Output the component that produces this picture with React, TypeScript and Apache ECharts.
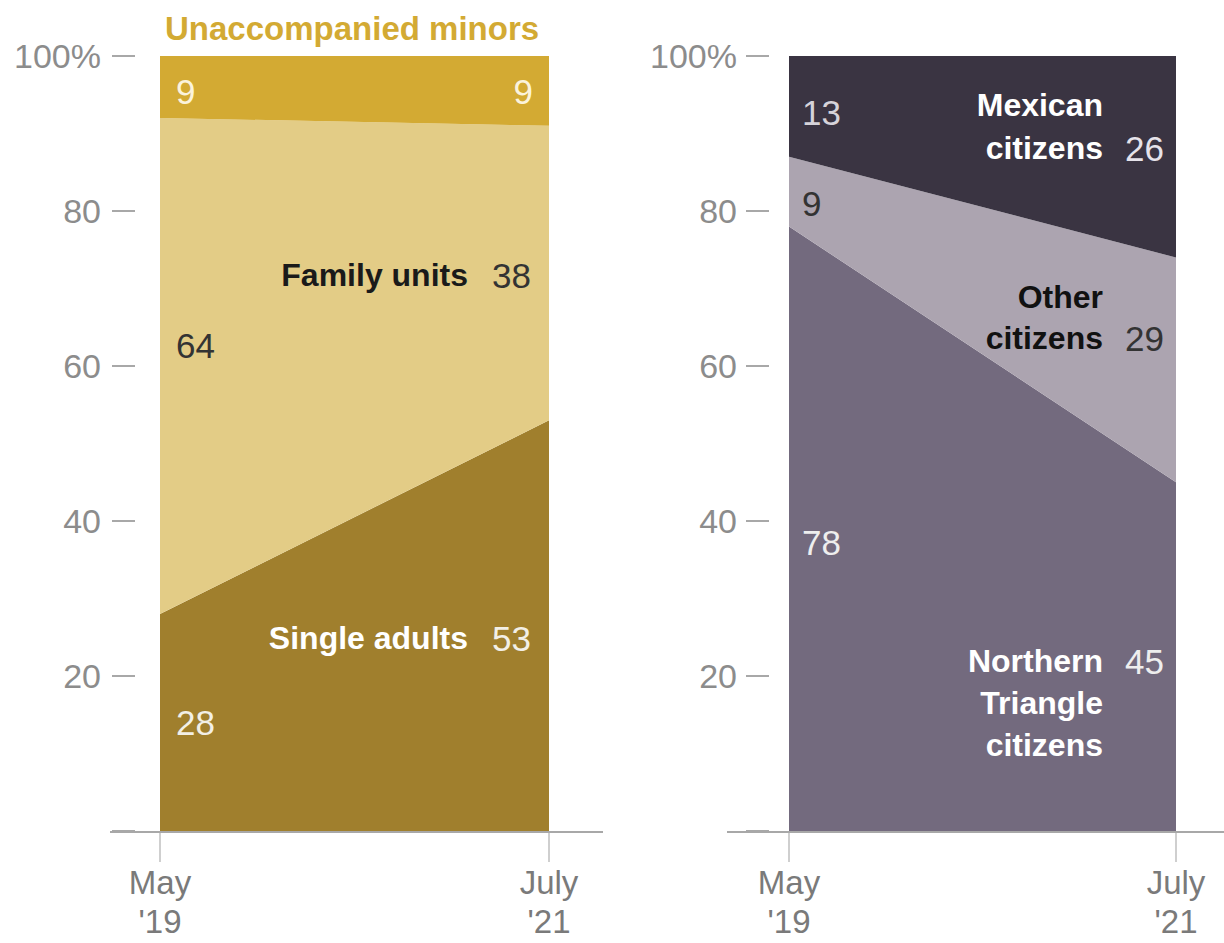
import React, { useEffect, useRef } from "react";
import * as echarts from "echarts";

const periods = ["May\n'19", "July\n'21"];
const yTicks = [0, 20, 40, 60, 80, 100];

// Left panel: shares by family status (%)
const singleAdults = [28, 53];
const familyUnits = [64, 38];
const unaccompanied = [9, 9];

// Right panel: shares by citizenship (%)
const northernTriangle = [78, 45];
const otherCitizens = [9, 29];
const mexicanCitizens = [13, 26];

const FONT = "'Liberation Sans', Arial, sans-serif";

function txt(text: string, x: number, y: number, fill: string, align: string, bold = false) {
  return {
    type: "text",
    x,
    y,
    z: 100,
    style: {
      text,
      fill,
      fontSize: bold ? 32 : 35,
      fontWeight: bold ? "bold" : "normal",
      fontFamily: FONT,
      align,
      verticalAlign: "middle",
    },
  };
}

export default function App() {
  const ref = useRef<HTMLDivElement>(null);
  useEffect(() => {
    const chart = echarts.init(ref.current!, null, { renderer: "svg" });
    const yAxisBase = (offset: number, margin: number) => ({
      type: "value",
      min: yTicks[0],
      max: yTicks[yTicks.length - 1],
      interval: 20,
      offset,
      axisLine: { show: false },
      axisTick: { show: true, length: 23, lineStyle: { color: "#a8a8a8", width: 2 } },
      splitLine: { show: false },
      axisLabel: {
        margin,
        fontSize: 34,
        fontFamily: FONT,
        color: "#8c8c8c",
        formatter: (v: number) => (v === 0 ? "" : v === 100 ? "100%" : String(v)),
      },
    });
    const xAxisBase = (gridIndex: number) => ({
      type: "category",
      gridIndex,
      data: periods,
      boundaryGap: false,
      axisLine: { show: false },
      axisTick: { show: true, length: 31, alignWithLabel: true, lineStyle: { color: "#cfcfcf", width: 2 } },
      axisLabel: {
        margin: 32,
        fontSize: 33,
        lineHeight: 39,
        fontFamily: FONT,
        color: "#7a7a7a",
        interval: 0,
      },
    });
    const area = (name: string, data: number[], color: string, stack: string, idx: number) => ({
      name,
      type: "line",
      stack,
      data,
      xAxisIndex: idx,
      yAxisIndex: idx,
      symbol: "none",
      lineStyle: { width: 0 },
      areaStyle: { color, opacity: 1 },
      itemStyle: { color },
    });
    chart.setOption({
      animation: false,
      grid: [
        { left: 160, right: 675, top: 56, bottom: 112, outerBoundsMode: "none", containLabel: false },
        { left: 789, right: 48, top: 56, bottom: 112, outerBoundsMode: "none", containLabel: false },
      ],
      xAxis: [xAxisBase(0), xAxisBase(1)],
      yAxis: [
        { ...yAxisBase(25, 34), gridIndex: 0 },
        { ...yAxisBase(20, 32), gridIndex: 1 },
      ],
      series: [
        area("Single adults", singleAdults, "#A07F2D", "L", 0),
        area("Family units", familyUnits, "#E3CC86", "L", 0),
        area("Unaccompanied minors", unaccompanied, "#D3AA33", "L", 0),
        area("Northern Triangle citizens", northernTriangle, "#736A7E", "R", 1),
        area("Other citizens", otherCitizens, "#ACA4B0", "R", 1),
        area("Mexican citizens", mexicanCitizens, "#3A3442", "R", 1),
      ],
      graphic: [
        { type: "line", z: 90, shape: { x1: 110, y1: 832, x2: 603, y2: 832 }, style: { stroke: "#a8a8a8", lineWidth: 2 } },
        { type: "line", z: 90, shape: { x1: 727, y1: 832, x2: 1224, y2: 832 }, style: { stroke: "#a8a8a8", lineWidth: 2 } },
        {
          type: "text",
          x: 165,
          y: 28,
          z: 100,
          style: {
            text: "Unaccompanied minors",
            fill: "#D3AA33",
            fontSize: 33,
            fontWeight: "bold",
            fontFamily: FONT,
            align: "left",
            verticalAlign: "middle",
          },
        },
        txt(String(unaccompanied[0]), 176, 91, "#FBF3DC", "left"),
        txt(String(unaccompanied[1]), 533, 91, "#FBF3DC", "right"),
        txt("Family units", 468, 275, "#1a1a1a", "right", true),
        txt(String(familyUnits[1]), 492, 275, "#333333", "left"),
        txt(String(familyUnits[0]), 176, 345, "#333333", "left"),
        txt("Single adults", 468, 638, "#ffffff", "right", true),
        txt(String(singleAdults[1]), 492, 638, "#F2EFE6", "left"),
        txt(String(singleAdults[0]), 176, 722, "#F2EFE6", "left"),

        txt(String(mexicanCitizens[0]), 802, 112, "#D6D3DA", "left"),
        txt("Mexican", 1103, 105, "#ffffff", "right", true),
        txt("citizens", 1103, 148, "#ffffff", "right", true),
        txt(String(mexicanCitizens[1]), 1125, 148, "#E6E3EA", "left"),
        txt(String(otherCitizens[0]), 802, 203, "#333333", "left"),
        txt("Other", 1103, 297, "#111111", "right", true),
        txt("citizens", 1103, 338, "#111111", "right", true),
        txt(String(otherCitizens[1]), 1125, 338, "#333333", "left"),
        txt(String(northernTriangle[0]), 802, 542, "#EEEEEE", "left"),
        txt("Northern", 1103, 661, "#ffffff", "right", true),
        txt("Triangle", 1103, 703, "#ffffff", "right", true),
        txt("citizens", 1103, 745, "#ffffff", "right", true),
        txt(String(northernTriangle[1]), 1125, 661, "#EEEEEE", "left"),
      ],
    });
    return () => chart.dispose();
  }, []);
  return (
    <div
      ref={ref}
      style={{ position: "fixed", left: 0, top: 0, width: 1224, height: 943, background: "#fff" }}
    />
  );
}
